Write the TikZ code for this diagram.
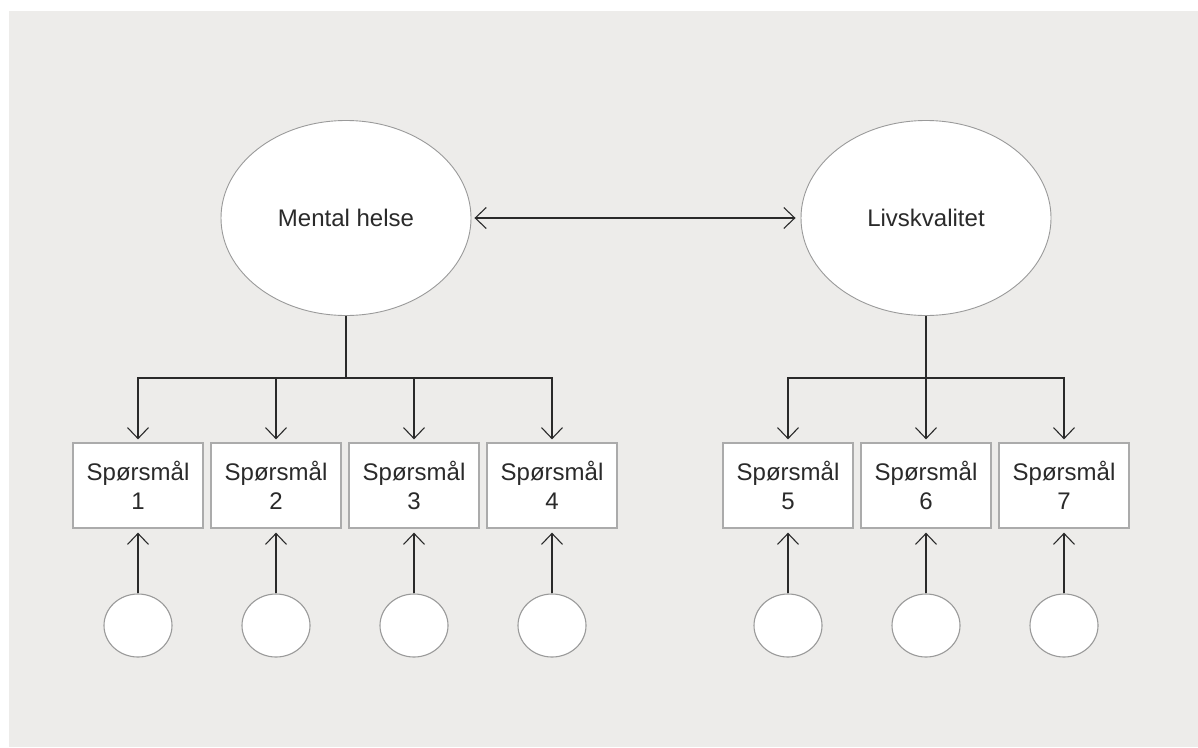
\documentclass[tikz,border=0pt]{standalone}
\usepackage{fontspec}
\setmainfont{Liberation Sans}
\usetikzlibrary{arrows.meta,shapes.geometric}
\definecolor{bg}{HTML}{EDECEA}
\definecolor{ink}{HTML}{2A2A2A}
\definecolor{rim}{HTML}{9A9A9A}
\definecolor{boxrim}{HTML}{ABABAB}
\tikzset{
  latent/.style={ellipse, draw=rim, line width=0.9pt, fill=white, minimum width=250pt, minimum height=195pt, inner sep=0pt, text=ink, font=\fontsize{24}{29}\selectfont},
  itembox/.style={rectangle, draw=boxrim, line width=1.3pt, fill=white, minimum width=130pt, minimum height=85pt, inner sep=0pt, align=center, text=ink, font=\fontsize{24}{29}\selectfont},
  errnode/.style={ellipse, draw=rim, line width=1.1pt, fill=white, minimum width=68pt, minimum height=63pt, inner sep=0pt},
  conn/.style={draw=ink, line width=1.2pt},
  arr/.style={conn, -{Straight Barb[length=11pt,width=21pt,line width=1.1pt]}},
  darr/.style={conn, {Straight Barb[length=11pt,width=21pt,line width=1.1pt]}-{Straight Barb[length=11pt,width=21pt,line width=1.1pt]}}
}
\begin{document}
\begin{tikzpicture}[x=1pt,y=-1pt]
\useasboundingbox (0,0) rectangle (1198,747);
\fill[bg] (9,11) rectangle (1198,747);

\node[latent] (e1) at (346,218) {Mental helse};
\node[latent] (e2) at (926,218) {Livskvalitet};

\foreach \i/\x in {1/138,2/276,3/414,4/552,5/788,6/926,7/1064}{
  \node[itembox] (q\i) at (\x,485.5) {Spørsmål\\\i};
  \node[errnode] (c\i) at (\x,625.5) {};
  \draw[arr, shorten >=4pt] (c\i.north) -- (q\i.south);
}

\coordinate (b1) at (346,378);
\coordinate (b2) at (926,378);
\draw[conn] (e1.south) -- (b1);
\draw[conn] (e2.south) -- (b2);
\foreach \i in {1,2,3,4}{
  \draw[arr, shorten >=3pt] (b1) -| (q\i.north);
}
\foreach \i in {5,6,7}{
  \draw[arr, shorten >=3pt] (b2) -| (q\i.north);
}

\draw[darr, shorten <=3pt, shorten >=5pt] (e1.east) -- (e2.west);
\end{tikzpicture}
\end{document}
